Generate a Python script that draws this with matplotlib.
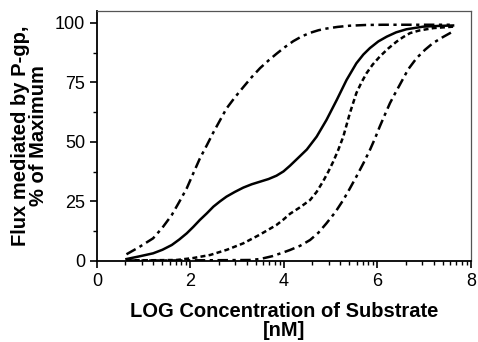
import matplotlib
matplotlib.use('Agg')
import matplotlib.pyplot as plt

# values
x_fast = [0.63, 0.9, 1.2, 1.4, 1.6, 1.76, 1.92, 2.06, 2.2, 2.35, 2.49, 2.63, 2.77, 2.95, 3.13, 3.31, 3.49, 3.67, 3.84, 4.02, 4.2, 4.38, 4.56, 4.74, 4.91, 5.15, 5.41, 5.75, 6.12, 6.8, 7.55]
y_fast = [2.8, 5.8, 9.5, 14, 19.3, 24.8, 30.5, 36.8, 43, 48.6, 54, 59, 64, 68.7, 73, 77.2, 81, 84.2, 87, 89.8, 92.3, 94.3, 95.8, 96.9, 97.6, 98.3, 98.8, 99.1, 99.2, 99.2, 99.2]

x_solid = [0.63, 0.9, 1.2, 1.4, 1.6, 1.76, 1.92, 2.06, 2.2, 2.35, 2.49, 2.63, 2.77, 2.95, 3.13, 3.31, 3.49, 3.67, 3.84, 3.99, 4.13, 4.3, 4.49, 4.7, 4.91, 5.13, 5.34, 5.55, 5.7, 5.84, 6.02, 6.2, 6.4, 6.62, 6.98, 7.3, 7.62]
y_solid = [0.8, 1.9, 3.2, 4.7, 6.7, 9, 11.6, 14.3, 17.2, 20, 22.8, 25, 27, 29, 30.8, 32.2, 33.3, 34.4, 35.8, 37.6, 40, 43.2, 46.8, 52.2, 59.2, 67.6, 76, 83, 86.7, 89.4, 92.2, 94.2, 96, 97.3, 98.4, 98.7, 98.9]

x_dot = [0.63, 1.2, 1.7, 2.05, 2.42, 2.78, 3.13, 3.48, 3.84, 3.99, 4.13, 4.35, 4.56, 4.7, 4.84, 4.95, 5.05, 5.16, 5.27, 5.41, 5.55, 5.66, 5.77, 5.9, 6.05, 6.23, 6.41, 6.55, 6.7, 6.9, 7.2, 7.62]
y_dot = [0.3, 0.3, 0.4, 1.2, 2.5, 4.7, 7.4, 11, 15.1, 17.4, 19.8, 22.6, 25.6, 29, 33.5, 37.5, 41.5, 46.5, 52.2, 62, 70.5, 75, 78.9, 82.5, 85.8, 89.2, 92.1, 94, 95.7, 96.8, 97.8, 98.4]

x_slow = [0.63, 1.5, 2.5, 3.27, 3.49, 3.75, 3.99, 4.13, 4.35, 4.56, 4.74, 4.91, 5.1, 5.27, 5.41, 5.55, 5.7, 5.84, 5.95, 6.05, 6.16, 6.27, 6.38, 6.48, 6.66, 6.84, 7.02, 7.19, 7.4, 7.62]
y_slow = [0.2, 0.2, 0.3, 0.4, 0.8, 2.0, 3.6, 4.6, 6.4, 8.8, 11.9, 15.8, 20.5, 25.6, 30.4, 35.4, 41, 46.6, 51.5, 56.4, 61.4, 66.3, 70.4, 74, 80.5, 85.2, 88.7, 91.5, 94, 96.4]

x_major = [0, 2, 4, 6, 8]
x_minor = [2 * d + 2 * lg for d in range(4) for lg in [0.301, 0.477, 0.602, 0.699, 0.778, 0.845, 0.903, 0.954]]
y_major = [0, 25, 50, 75, 100]
y_minor = [12.5, 37.5, 62.5, 87.5]

plt.rcParams['font.family'] = ['Liberation Sans', 'DejaVu Sans']

fig = plt.figure(figsize=(4.78, 3.42), dpi=100)
ax = fig.add_axes([0.203, 0.237, 0.782, 0.731])

lw = 1.8
ax.plot(x_fast, y_fast, color='black', lw=lw, dashes=(4.2, 1.8, 1.3, 1.8))
ax.plot(x_solid, y_solid, color='black', lw=lw)
ax.plot(x_dot, y_dot, color='black', lw=lw, dashes=(2.0, 1.3))
ax.plot(x_slow, y_slow, color='black', lw=lw, dashes=(4.2, 1.8, 1.3, 1.8))

ax.set_xlim(0, 8)
ax.set_ylim(0, 105)
ax.set_xticks(x_major)
ax.set_xticks(x_minor, minor=True)
ax.set_yticks(y_major)
ax.set_yticks(y_minor, minor=True)
ax.tick_params(which='major', length=5, width=1.2, labelsize=13)
ax.tick_params(which='minor', length=3, width=1.0)

for s in ['left', 'bottom']:
    ax.spines[s].set_linewidth(1.3)
for s in ['top', 'right']:
    ax.spines[s].set_linewidth(0.9)
    ax.spines[s].set_color('#555555')

ax.set_xlabel('LOG Concentration of Substrate\n[nM]', fontsize=14.5, fontweight='bold', labelpad=9, linespacing=0.95)
ax.set_ylabel('Flux mediated by P-gp,\n% of Maximum', fontsize=14.5, fontweight='bold', labelpad=5, linespacing=0.95)

fig.savefig('out.png', dpi=100)
